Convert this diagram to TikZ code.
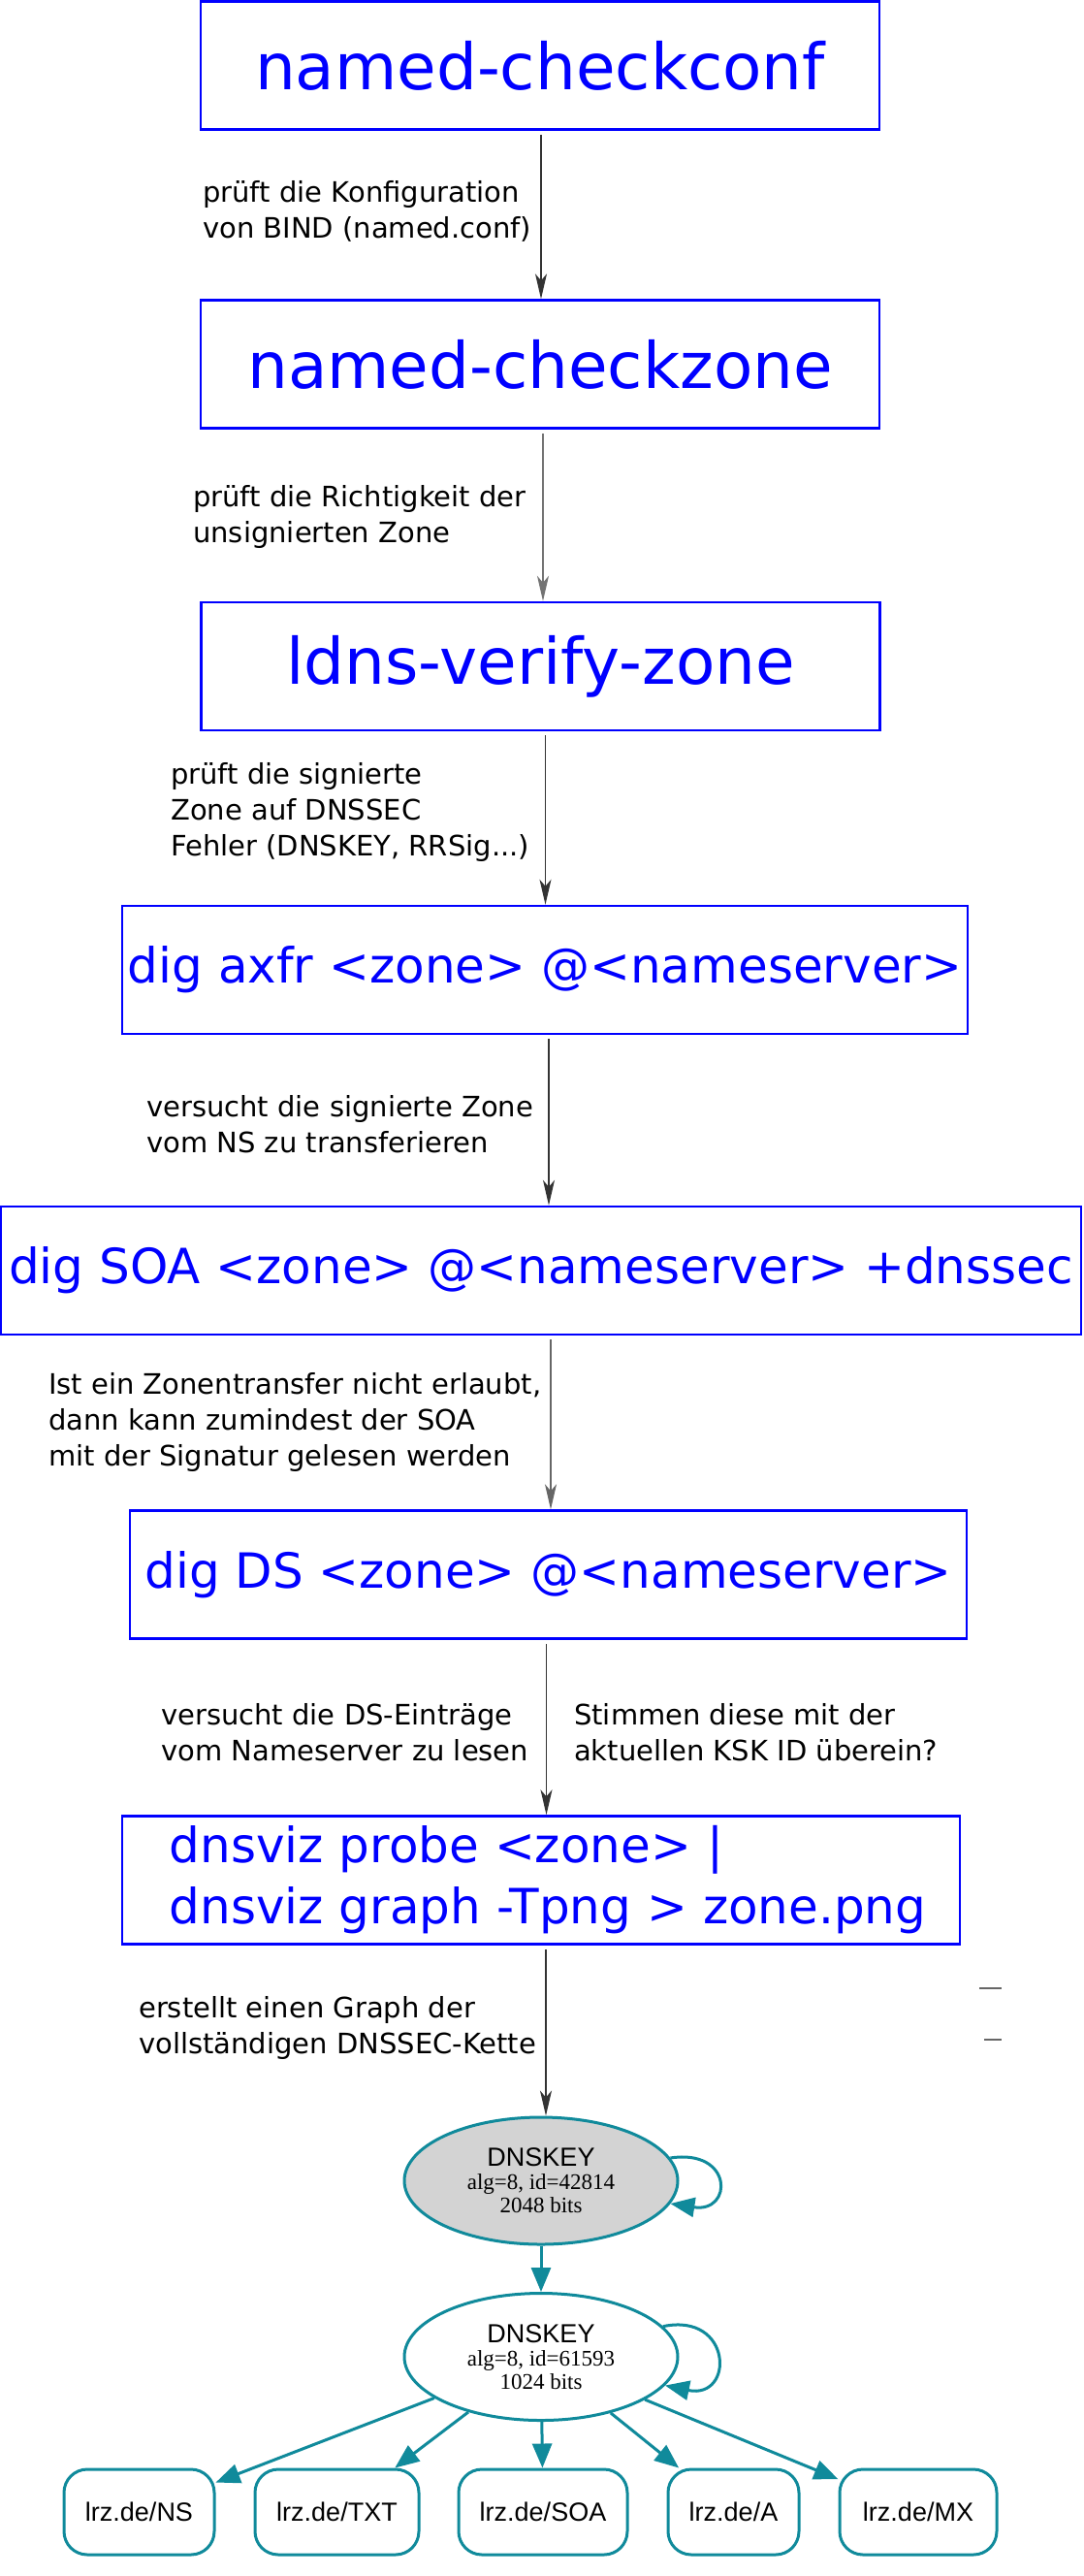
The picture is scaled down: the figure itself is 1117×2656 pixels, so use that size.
\documentclass[tikz,border=0pt]{standalone}
\usepackage{fontspec}
\setmainfont{DejaVu Sans}
\newfontfamily\gvsans{Liberation Sans}
\newfontfamily\gvserif{Liberation Serif}
\usetikzlibrary{arrows.meta,shapes.geometric,positioning}
\definecolor{gvteal}{RGB}{16,138,155}
\definecolor{gvgray}{RGB}{211,211,211}

\begin{document}
\begin{tikzpicture}[x=1pt,y=1pt,
                    cmd/.style={draw=blue,line width=2.5pt,text=blue,inner sep=0pt,
                                minimum height=132pt,font=\fontsize{50}{63}\selectfont},
                    bigcmd/.style={cmd,minimum width=700pt,font=\fontsize{66}{80}\selectfont},
                    flow/.style={draw=black!80,line width=1.3pt,shorten <=4pt,
                                 -{Stealth[length=26pt,width=12pt,inset=7pt]}},
                    note/.style={anchor=north west,align=left,inner sep=0pt,
                                 font=\fontsize{29}{37}\selectfont},
                    key/.style={ellipse,draw=gvteal,line width=3pt,minimum width=282pt,
                                minimum height=131pt,inner sep=0pt,align=center,
                                font=\gvserif\fontsize{23}{24}\selectfont},
                    rr/.style={draw=gvteal,line width=3pt,rounded corners=24pt,minimum height=88pt,
                               inner sep=0pt,font=\gvsans\fontsize{27}{30}\selectfont},
                    sig/.style={draw=gvteal,line width=3pt,-{Triangle[length=25pt,width=20pt]}}]
    \useasboundingbox (0,0) rectangle (1117,-2656);

    \node[bigcmd] (checkconf) at (557,-67.5) {named-checkconf};
    \node[bigcmd] (checkzone) at (557,-375.5) {named-checkzone};
    \node[bigcmd] (verify) at (557.5,-687) {ldns-verify-zone};
    \node[cmd,minimum width=872pt] (axfr) at (562,-1000) {dig axfr <zone> @<nameserver>};
    \node[cmd,minimum width=1114pt] (soa) at (558,-1310) {dig SOA <zone> @<nameserver> +dnssec};
    \node[cmd,minimum width=863pt] (ds) at (565.5,-1623.5) {dig DS <zone> @<nameserver>};
    \node[cmd,minimum width=864pt,align=left] (viz) at (558,-1938.5)
        {\hspace*{14pt}dnsviz probe <zone> |\\\hspace*{14pt}dnsviz graph -Tpng > zone.png};

    \node[note] (n1) at (209,-186) {prüft die Konfiguration\\von BIND (named.conf)};
    \node[note] (n2) at (199,-500) {prüft die Richtigkeit der\\unsignierten Zone};
    \node[note] (n3) at (176,-786) {prüft die signierte\\Zone auf DNSSEC\\Fehler (DNSKEY, RRSig...)};
    \node[note] (n4) at (151,-1129) {versucht die signierte Zone\\vom NS zu transferieren};
    \node[note] (n5) at (50,-1415) {Ist ein Zonentransfer nicht erlaubt,\\dann kann zumindest der SOA\\mit der Signatur gelesen werden};
    \node[note] (n6) at (166,-1756) {versucht die DS-Einträge\\vom Nameserver zu lesen};
    \node[note] (n6b) at (592,-1756) {Stimmen diese mit der\\aktuellen KSK ID überein?};
    \node[note] (n7) at (143,-2058) {erstellt einen Graph der\\vollständigen DNSSEC-Kette};

    \node[key,fill=gvgray] (ksk) at (558,-2248.5)
        {{\gvsans\fontsize{27}{27}\selectfont DNSKEY}\\alg=8, id=42814\\2048 bits};
    \node[key] (zsk) at (558,-2430)
        {{\gvsans\fontsize{27}{27}\selectfont DNSKEY}\\alg=8, id=61593\\1024 bits};

    \node[rr,minimum width=155pt] (ns) at (143.5,-2590) {lrz.de/NS};
    \node[rr,minimum width=169pt] (txt) at (347.5,-2590) {lrz.de/TXT};
    \node[rr,minimum width=174pt] (soarr) at (560,-2590) {lrz.de/SOA};
    \node[rr,minimum width=135pt] (arr) at (756.5,-2590) {lrz.de/A};
    \node[rr,minimum width=162pt] (mx) at (947,-2590) {lrz.de/MX};

    \draw[flow] ([xshift=1pt]checkconf.south) -- ([xshift=1pt]checkconf.south |- checkzone.north);
    \draw[flow,draw=black!55] ([xshift=3pt]checkzone.south) -- ([xshift=3pt]checkzone.south |- verify.north);
    \draw[flow] ([xshift=5pt]verify.south) -- ([xshift=5pt]verify.south |- axfr.north);
    \draw[flow] ([xshift=4pt]axfr.south) -- ([xshift=4pt]axfr.south |- soa.north);
    \draw[flow,draw=black!60] ([xshift=10pt]soa.south) -- ([xshift=10pt]soa.south |- ds.north);
    \draw[flow] ([xshift=-2pt]ds.south) -- ([xshift=-2pt]ds.south |- viz.north);
    \draw[flow] ([xshift=5pt]viz.south) -- ([xshift=5pt]viz.south |- ksk.north);

    \draw[sig] (ksk) -- (zsk);
    \draw[sig] (ksk.10) .. controls +(65,10) and +(65,-10) .. (ksk.-10);
    \draw[sig] (zsk.14) .. controls +(72,15) and +(72,-15) .. (zsk.-13);
    \foreach \rec in {ns,txt,soarr,arr,mx}
        \draw[sig] (zsk) -- (\rec);

    \draw[black!60,line width=2pt] (1010,-2050) -- (1033,-2050);
    \draw[black!60,line width=2pt] (1015,-2103) -- (1033,-2103);
\end{tikzpicture}
\end{document}
